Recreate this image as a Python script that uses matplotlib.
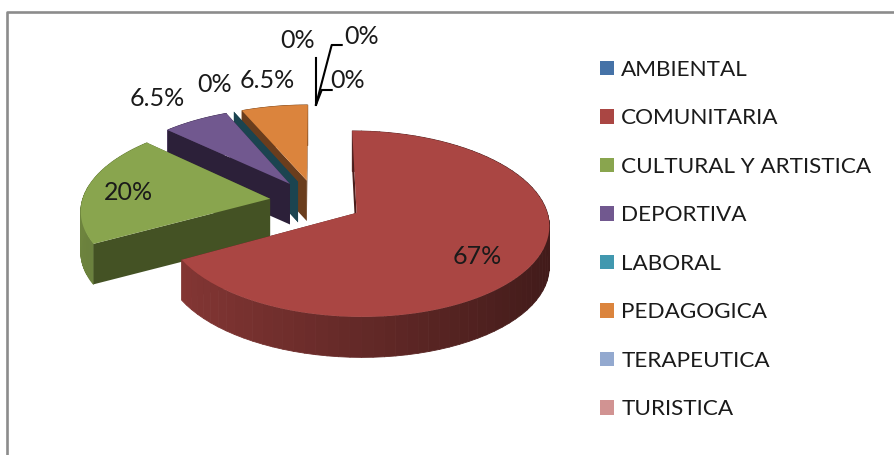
import matplotlib
matplotlib.use("Agg")
import matplotlib.pyplot as plt
from matplotlib.patches import Patch
from matplotlib.collections import PolyCollection
from matplotlib.colors import to_rgb
import numpy as np

plt.rcParams['font.family'] = ['Lato', 'DejaVu Sans']

categories = ['AMBIENTAL', 'COMUNITARIA', 'CULTURAL Y ARTISTICA', 'DEPORTIVA',
              'LABORAL', 'PEDAGOGICA', 'TERAPEUTICA', 'TURISTICA']
values = [0, 67, 20, 6.5, 0, 6.5, 0, 0]
pct_labels = ['0%', '67%', '20%', '6.5%', '0%', '6.5%', '0%', '0%']
colors = ['#4572A7', '#AA4643', '#89A54E', '#71588F', '#4198AF', '#DB843D', '#93A9CF', '#D19392']
cut_colors = ['#223853', '#4A1E1C', '#445224', '#2C2039', '#1B4450', '#6A3D1D', '#49546A', '#684A49']

# pie geometry in pixels, y goes down
cx, cy = 316, 201.5
rx, ry = 188, 89
persp = 0.117
explode = 0.247
depth = 40.5


def project(u, v):
    f = 1 / (1 + persp * v)
    return cx + rx * u * f, cy - ry * v * f


def slice_points(start, end, n=80):
    # angles in degrees clockwise from 12 o'clock
    mid = np.radians((start + end) / 2)
    ax0, ay0 = explode * np.sin(mid), explode * np.cos(mid)
    a = np.radians(np.linspace(start, end, n))
    x, y = project(ax0 + np.sin(a), ay0 + np.cos(a))
    apex = project(ax0, ay0)
    return apex, x, y, a


def face(ax, apex, px, py, color, z):
    ax.fill([apex[0], px, px, apex[0]], [apex[1], py, py + depth, apex[1] + depth],
            color=color, lw=0, zorder=z)


fig = plt.figure(figsize=(8.95, 4.55), dpi=100)
ax = fig.add_axes([0, 0, 1, 1])
ax.set_xlim(0, 895)
ax.set_ylim(455, 0)
ax.axis('off')

# back to front, the big front slices are painted last
ends = np.cumsum(values) * 3.6
starts = ends - np.array(values) * 3.6
paint = [7, 6, 0, 5, 4, 3, 2, 1]
for i, idx in enumerate(paint):
    apex, x, y, a = slice_points(starts[idx], ends[idx])
    z = 2 + i * 5
    base = np.array(to_rgb(colors[idx]))
    face(ax, apex, x[-1], y[-1], cut_colors[idx], z)
    if values[idx] > 0:
        quads = []
        shades = []
        for j in range(len(a) - 1):
            quads.append([(x[j], y[j]), (x[j + 1], y[j + 1]),
                          (x[j + 1], y[j + 1] + depth), (x[j], y[j] + depth)])
            shades.append(base * np.interp(np.sin(a[j]), [-1, 1], [0.8, 0.38]))
        ax.add_collection(PolyCollection(quads, facecolors=shades, edgecolors=shades,
                                         linewidths=0.6, zorder=z + 1))
    face(ax, apex, x[0], y[0], cut_colors[idx], z + 2)
    if values[idx] > 0:
        ax.fill(np.r_[apex[0], x], np.r_[apex[1], y], color=colors[idx], lw=0, zorder=z + 3)

# value labels
label_x = [298, 477, 128, 157, 215, 267, 348, 362]
label_y = [40, 256, 192, 99, 85, 81, 81, 37]
for s, lx, ly in zip(pct_labels, label_x, label_y):
    ax.text(lx, ly, s, ha='center', va='center', fontsize=18, color='#1a1a1a', zorder=60)

# leader lines for the empty slices
tip = project(0, 1 + explode)
ax.plot([tip[0], tip[0]], [tip[1], 58], color='black', lw=1.5, zorder=55)
ax.plot([tip[0], 331.7, 341.7], [tip[1], 45, 45], color='black', lw=1.5, zorder=55)
ax.plot([tip[0], 321.7, 331.7], [tip[1], 90, 90], color='black', lw=1.5, zorder=55)

handles = [Patch(facecolor=c, edgecolor='none') for c in colors]
ax.legend(handles, categories, loc='upper left', bbox_to_anchor=(600, 60),
          bbox_transform=ax.transData, frameon=False, fontsize=16.2, borderpad=0,
          borderaxespad=0, handlelength=0.63, handleheight=0.63, handletextpad=0.32,
          labelspacing=1.266, labelcolor='#1a1a1a')

# chart frame, only top and left are in the crop
ax.plot([7.5, 7.5, 895], [455, 11.5, 11.5], color='#8c8c8c', lw=1.9, zorder=70)

fig.savefig('out.png', dpi=100)
